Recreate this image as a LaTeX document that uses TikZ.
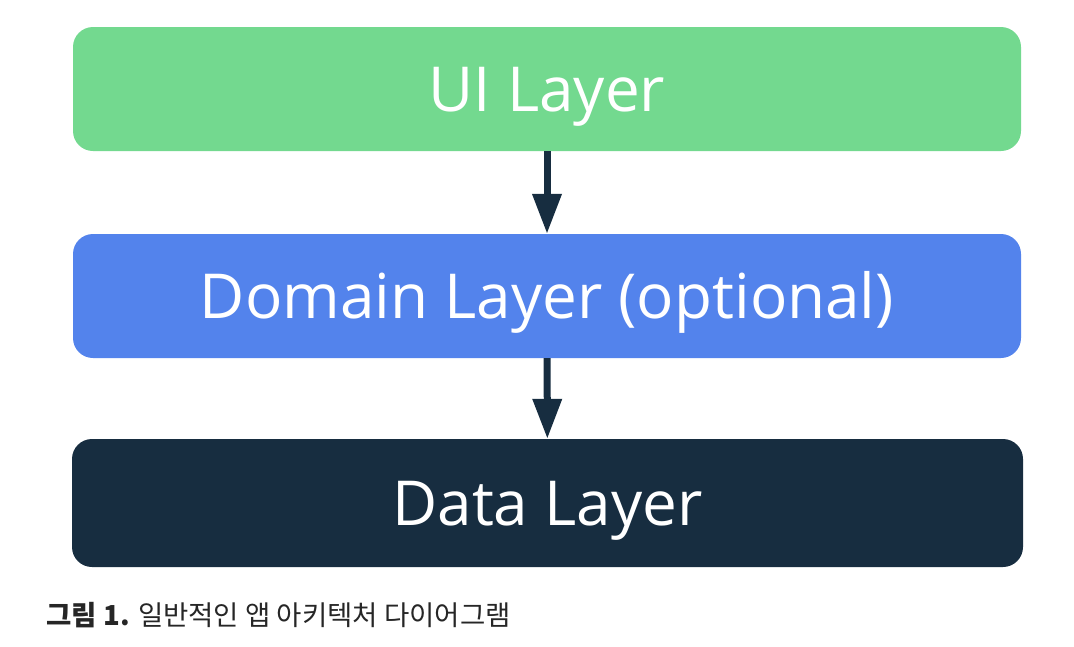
\documentclass[tikz,border=0pt]{standalone}
\usepackage{fontspec}
\setmainfont{Open Sans}
\newfontfamily\krfont{Noto Sans CJK KR}
\usetikzlibrary{arrows.meta}
\definecolor{uigreen}{HTML}{73D98F}
\definecolor{domainblue}{HTML}{5383EC}
\definecolor{datanavy}{HTML}{172D40}
\tikzset{
  layer/.style={ rounded corners=20pt, minimum width=948pt, minimum height=124pt, inner sep=0pt,
    text=white, font=\fontsize{62}{66}\selectfont, text height=44pt, text depth=0pt }
}
\tikzset{
  flow/.style={ -{Triangle[width=28pt,length=40pt]}, line width=7pt, datanavy }
}
\begin{document}
\begin{tikzpicture}[x=1pt,y=-1pt]
      \useasboundingbox (0,0) rectangle (1074,646);

      \node[layer, fill=uigreen] (ui) at (547, 89) {UI Layer};
      \node[layer, fill=domainblue] (domain) at (547, 296) {Domain Layer (optional)};
      \node[layer, fill=datanavy, minimum width=951pt, minimum height=128pt] (data) at (547.5, 503) {Data Layer};

      \node[anchor=west, font=\krfont\fontsize{27.5}{30}\selectfont, text=black!85] (cap) at (43, 615)
        {\textbf{그림 1.} 일반적인 앱 아키텍처 다이어그램};

      \begin{scope}[flow]
        \draw (ui) -- (domain);
        \draw (domain) -- (data);
      \end{scope}
    \end{tikzpicture}
\end{document}
